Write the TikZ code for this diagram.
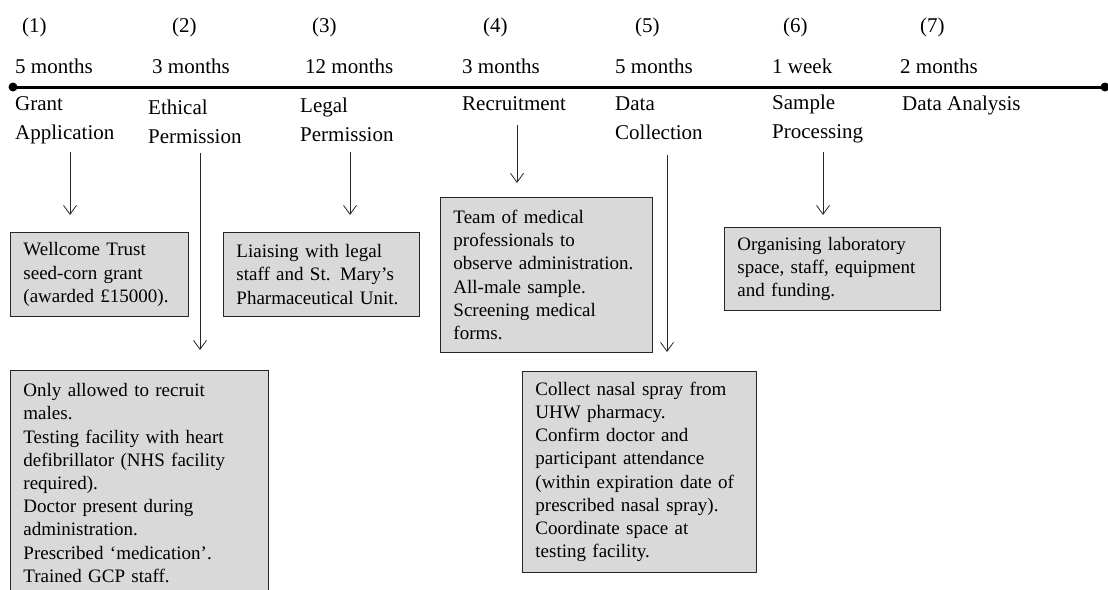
\documentclass[tikz,border=0pt]{standalone}
\usepackage{fontspec}
\setmainfont{Liberation Serif}
\usetikzlibrary{arrows.meta}

\begin{document}
\begin{tikzpicture}[x=1pt,y=-1pt,
  hdr/.style={anchor=base west,inner sep=0pt,align=left,font=\fontsize{21}{28.5}\selectfont},
  note/.style={draw=black!85,fill=black!15,line width=0.9pt,anchor=north west,align=left,
    inner xsep=13pt,inner ysep=0pt,font=\fontsize{19}{23.2}\selectfont},
  arr/.style={draw=black!85,line width=0.8pt,-{Straight Barb[length=9pt,width=13pt]}},
  dot/.style={circle,fill=black,inner sep=0pt,minimum size=9pt}]
  \useasboundingbox (0,0) rectangle (1108,589);
  \clip (0,0) rectangle (1108,589);
  % timeline
  \node[dot] (tl0) at (13,87) {};
  \node[dot] (tl1) at (1105,87) {};
  \draw[line width=3pt] (tl0.center) -- (tl1.center);
  % stage numbers
  \node[hdr] (n1) at (22,32) {(1)};
  \node[hdr] (n2) at (172,32) {(2)};
  \node[hdr] (n3) at (312,32) {(3)};
  \node[hdr] (n4) at (483,32) {(4)};
  \node[hdr] (n5) at (635,32) {(5)};
  \node[hdr] (n6) at (783,32) {(6)};
  \node[hdr] (n7) at (920,32) {(7)};
  % durations
  \node[hdr] (d1) at (15,73) {5 months};
  \node[hdr] (d2) at (152,73) {3 months};
  \node[hdr] (d3) at (305,73) {12 months};
  \node[hdr] (d4) at (462,73) {3 months};
  \node[hdr] (d5) at (615,73) {5 months};
  \node[hdr] (d6) at (772,73) {1 week};
  \node[hdr] (d7) at (900,73) {2 months};
  % stage names (base = last line)
  \node[hdr] (grant) at (15,139) {Grant\\Application};
  \node[hdr] (ethic) at (148,143) {Ethical\\Permission};
  \node[hdr] (legal) at (300,141) {Legal\\Permission};
  \node[hdr] (recr) at (462,110) {Recruitment};
  \node[hdr] (coll) at (615,139) {Data\\Collection};
  \node[hdr] (samp) at (772,138) {Sample\\Processing};
  \node[hdr] (anal) at (902,110) {Data Analysis};
  % details
  \node[note,text width=152pt,minimum height=84pt] (b1) at (10,232)
    {Wellcome Trust\\seed-corn grant\\(awarded £15000).};
  \node[note,text width=232pt,minimum height=225pt] (b2) at (10,370)
    {Only allowed to recruit\\males.\\Testing facility with heart\\defibrillator (NHS facility\\required).\\Doctor present during\\administration.\\Prescribed `medication'.\\Trained GCP staff.};
  \node[note,text width=170pt,minimum height=84pt] (b3) at (223,232)
    {Liaising with legal\\staff and St. Mary's\\Pharmaceutical Unit.};
  \node[note,text width=186pt,minimum height=155pt] (b4) at (440,197)
    {Team of medical\\professionals to\\observe administration.\\All-male sample.\\Screening medical\\forms.};
  \node[note,text width=208pt,minimum height=201pt] (b5) at (522,371)
    {Collect nasal spray from\\UHW pharmacy.\\Confirm doctor and\\participant attendance\\(within expiration date of\\prescribed nasal spray).\\Coordinate space at\\testing facility.};
  \node[note,text width=190pt,minimum height=83pt] (b6) at (724,227)
    {Organising laboratory\\space, staff, equipment\\and funding.};
  % arrows
  \coordinate (c1) at (70,0);
  \coordinate (c2) at (200,0);
  \coordinate (c3) at (350,0);
  \coordinate (c4) at (517,0);
  \coordinate (c5) at (667,0);
  \coordinate (c6) at (823,0);
  \draw[arr,shorten <=8pt,shorten >=17pt] (c1 |- grant.south) -- (c1 |- b1.north);
  \draw[arr,shorten <=10pt,shorten >=20pt] (c2 |- ethic.south) -- (c2 |- b2.north);
  \draw[arr,shorten <=11pt,shorten >=17pt] (c3 |- legal.south) -- (c3 |- b3.north);
  \draw[arr,shorten <=15pt,shorten >=14pt] (c4 |- recr.south) -- (c4 |- b4.north);
  \draw[arr,shorten <=16pt,shorten >=19pt] (c5 |- coll.south) -- (c5 |- b5.north);
  \draw[arr,shorten <=9pt,shorten >=12pt] (c6 |- samp.south) -- (c6 |- b6.north);
\end{tikzpicture}
\end{document}
